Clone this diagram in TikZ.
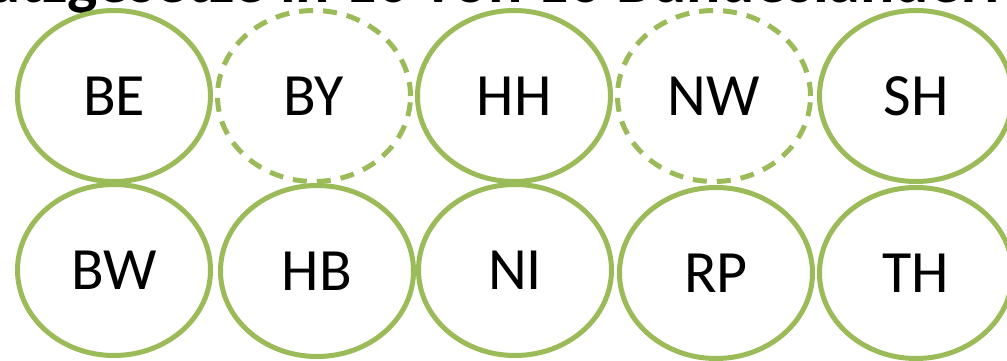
\documentclass[tikz,border=0pt]{standalone}
\usepackage{fontspec}
\setmainfont{Carlito}
\usetikzlibrary{shapes.geometric}
\definecolor{olive}{HTML}{9BBB59}
\begin{document}
\begin{tikzpicture}[x=1pt,y=-1pt,
  land/.style={ellipse,draw=olive,line width=5pt,minimum width=193pt,minimum height=171pt,inner sep=0pt,
    font=\fontsize{60}{72}\selectfont,text=black},
  landdash/.style={land,dash pattern=on 14pt off 10pt}]
\useasboundingbox (0,0) rectangle (1007,361);
\node[anchor=base west,inner sep=0pt,font=\fontsize{64}{76}\selectfont\bfseries] (title) at (-14,3) {utzgesetze in 10 von 16 Bundesländern};
\node[land] (BE) at (114,96) {BE};
\node[landdash] (BY) at (314,96) {BY};
\node[land] (HH) at (514,96) {HH};
\node[landdash] (NW) at (714,96) {NW};
\node[land] (SH) at (916,96) {SH};
\node[land] (BW) at (114,270) {BW};
\node[land] (HB) at (317,271) {HB};
\node[land] (NI) at (515,270) {NI};
\node[land] (RP) at (716,273) {RP};
\node[land] (TH) at (916,273) {TH};
\end{tikzpicture}
\end{document}
